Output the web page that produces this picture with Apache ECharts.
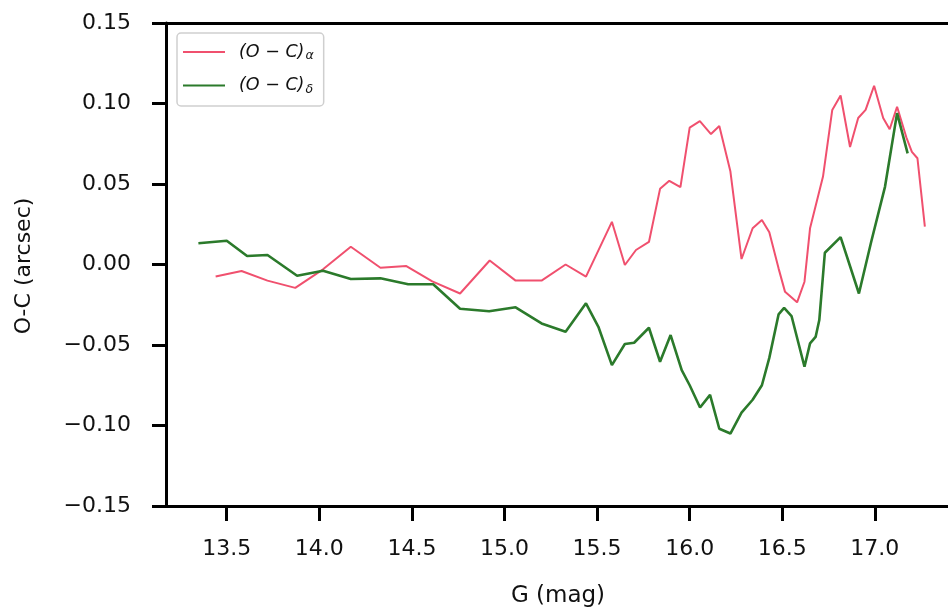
<!DOCTYPE html>
<html>
<head>
<meta charset="utf-8">
<script src="https://cdn.jsdelivr.net/npm/echarts@6/dist/echarts.min.js"></script>
<style>
  html, body { margin: 0; padding: 0; background: #fff; }
  #chart { width: 948px; height: 607px; }
</style>
</head>
<body>
<div id="chart"></div>
<script>
// (O-C) in RA vs G magnitude
var gMagA = [13.44, 13.58, 13.72, 13.87, 14.02, 14.17, 14.33, 14.47, 14.61, 14.76,
             14.92, 15.06, 15.20, 15.33, 15.44, 15.58, 15.65, 15.71, 15.78, 15.84,
             15.89, 15.95, 16.00, 16.055, 16.115, 16.16, 16.22, 16.28, 16.34, 16.39,
             16.43, 16.48, 16.515, 16.58, 16.62, 16.65, 16.72, 16.77, 16.815, 16.866,
             16.91, 16.95, 16.996, 17.045, 17.08, 17.12, 17.17, 17.20, 17.23, 17.27];
var ocAlpha = [-0.0075, -0.004, -0.010, -0.0145, -0.003, 0.011, -0.002, -0.001, -0.0105, -0.018,
               0.0025, -0.010, -0.010, 0.000, -0.0075, 0.0265, -0.0003, 0.009, 0.014, 0.047,
               0.052, 0.048, 0.085, 0.089, 0.081, 0.086, 0.0577, 0.0034, 0.0225, 0.0277,
               0.020, -0.0024, -0.017, -0.0235, -0.0107, 0.0225, 0.0546, 0.096, 0.105, 0.073,
               0.091, 0.096, 0.111, 0.091, 0.084, 0.098, 0.079, 0.070, 0.066, 0.0235];

// (O-C) in Dec vs G magnitude
var gMagD = [13.347, 13.50, 13.61, 13.72, 13.88, 14.02, 14.17, 14.33, 14.48, 14.615,
             14.76, 14.917, 15.06, 15.20, 15.33, 15.44, 15.507, 15.58, 15.65, 15.70,
             15.78, 15.84, 15.897, 15.957, 16.00, 16.056, 16.11, 16.16, 16.22, 16.28,
             16.34, 16.39, 16.43, 16.48, 16.51, 16.55, 16.62, 16.65, 16.68, 16.70,
             16.73, 16.815, 16.914, 16.98, 17.055, 17.12, 17.177];
var ocDelta = [0.0132, 0.0148, 0.0053, 0.0059, -0.007, -0.0039, -0.009, -0.0086, -0.0123, -0.0123,
               -0.0275, -0.029, -0.0266, -0.0366, -0.0418, -0.0241, -0.0387, -0.0625, -0.0494, -0.0486,
               -0.0393, -0.0604, -0.0438, -0.0656, -0.075, -0.0888, -0.081, -0.102, -0.105, -0.092,
               -0.084, -0.075, -0.058, -0.031, -0.027, -0.032, -0.0635, -0.049, -0.045, -0.0345,
               0.0073, 0.017, -0.018, 0.014, 0.0484, 0.094, 0.069];

var xTicks = [13.5, 14.0, 14.5, 15.0, 15.5, 16.0, 16.5, 17.0];

var FONT = 'DejaVu Sans';
var INK = '#111';

function pairs(xs, ys){
    var out = [];
    for(let i = 0; i < xs.length; i++)
        out.push([xs[i], ys[i]]);
    return out;
}

var chart = echarts.init(document.getElementById('chart'));
chart.setOption({
    animation: false,
    backgroundColor: '#fff',
    grid: { left: 166, right: 0, top: 23, bottom: 101, containLabel: false },
    legend: {
        left: 177, top: 33,
        orient: 'vertical',
        padding: [10, 10, 10, 6],
        icon: 'rect',
        itemWidth: 42, itemHeight: 2, itemGap: 14,
        backgroundColor: 'rgba(255,255,255,0.85)',
        borderColor: '#cfcfcf', borderWidth: 1.5, borderRadius: 4,
        data: ['a', 'd'],
        formatter: function(name){
            return name == 'a' ? '{i|(O \u2212 C)}{s|\u03b1}' : '{i|(O \u2212 C)}{s|\u03b4}';
        },
        textStyle: {
            rich: {
                i: { fontFamily: FONT, fontStyle: 'italic', fontSize: 17.5, color: INK, padding: [0, 0, 0, 9] },
                s: { fontFamily: FONT, fontStyle: 'italic', fontSize: 12.5, color: INK, padding: [8, 0, 0, 1] }
            }
        }
    },
    xAxis: [{
        type: 'value',
        min: 13.172, max: 17.395,
        position: 'bottom',
        splitLine: { show: false },
        axisLine: { show: true, onZero: false, lineStyle: { color: '#000', width: 3 } },
        axisTick: { show: true, length: 15, customValues: xTicks, lineStyle: { color: '#000', width: 3 } },
        axisLabel: {
            customValues: xTicks, margin: 32,
            fontFamily: FONT, fontSize: 22, color: INK,
            formatter: function(v){ return v.toFixed(1); }
        }
    }, {
        type: 'value',
        min: 13.172, max: 17.395,
        position: 'top',
        splitLine: { show: false },
        axisLine: { show: true, onZero: false, lineStyle: { color: '#000', width: 3 } },
        axisTick: { show: false },
        axisLabel: { show: false }
    }],
    yAxis: {
        type: 'value',
        min: -0.15, max: 0.15, interval: 0.05,
        splitLine: { show: false },
        axisLine: { show: true, onZero: false, lineStyle: { color: '#000', width: 3 } },
        axisTick: { show: true, length: 14, lineStyle: { color: '#000', width: 3 } },
        axisLabel: {
            margin: 35,
            fontFamily: FONT, fontSize: 22, color: INK,
            formatter: function(v){ return v.toFixed(2).replace('-', '\u2212'); }
        }
    },
    graphic: [{
        type: 'text', x: 558, y: 596,
        style: { text: 'G (mag)', font: '23px "DejaVu Sans"', fill: INK, textAlign: 'center', textVerticalAlign: 'middle' }
    }, {
        type: 'text', x: 24, y: 266, rotation: Math.PI / 2,
        style: { text: 'O-C (arcsec)', font: '22px "DejaVu Sans"', fill: INK, textAlign: 'center', textVerticalAlign: 'middle' }
    }],
    series: [{
        name: 'a',
        type: 'line',
        symbol: 'none',
        data: pairs(gMagA, ocAlpha),
        itemStyle: { color: '#f0506e' },
        lineStyle: { color: '#f0506e', width: 2 }
    }, {
        name: 'd',
        type: 'line',
        symbol: 'none',
        data: pairs(gMagD, ocDelta),
        itemStyle: { color: '#2b7a2b' },
        lineStyle: { color: '#2b7a2b', width: 2.6 }
    }]
});
</script>
</body>
</html>
